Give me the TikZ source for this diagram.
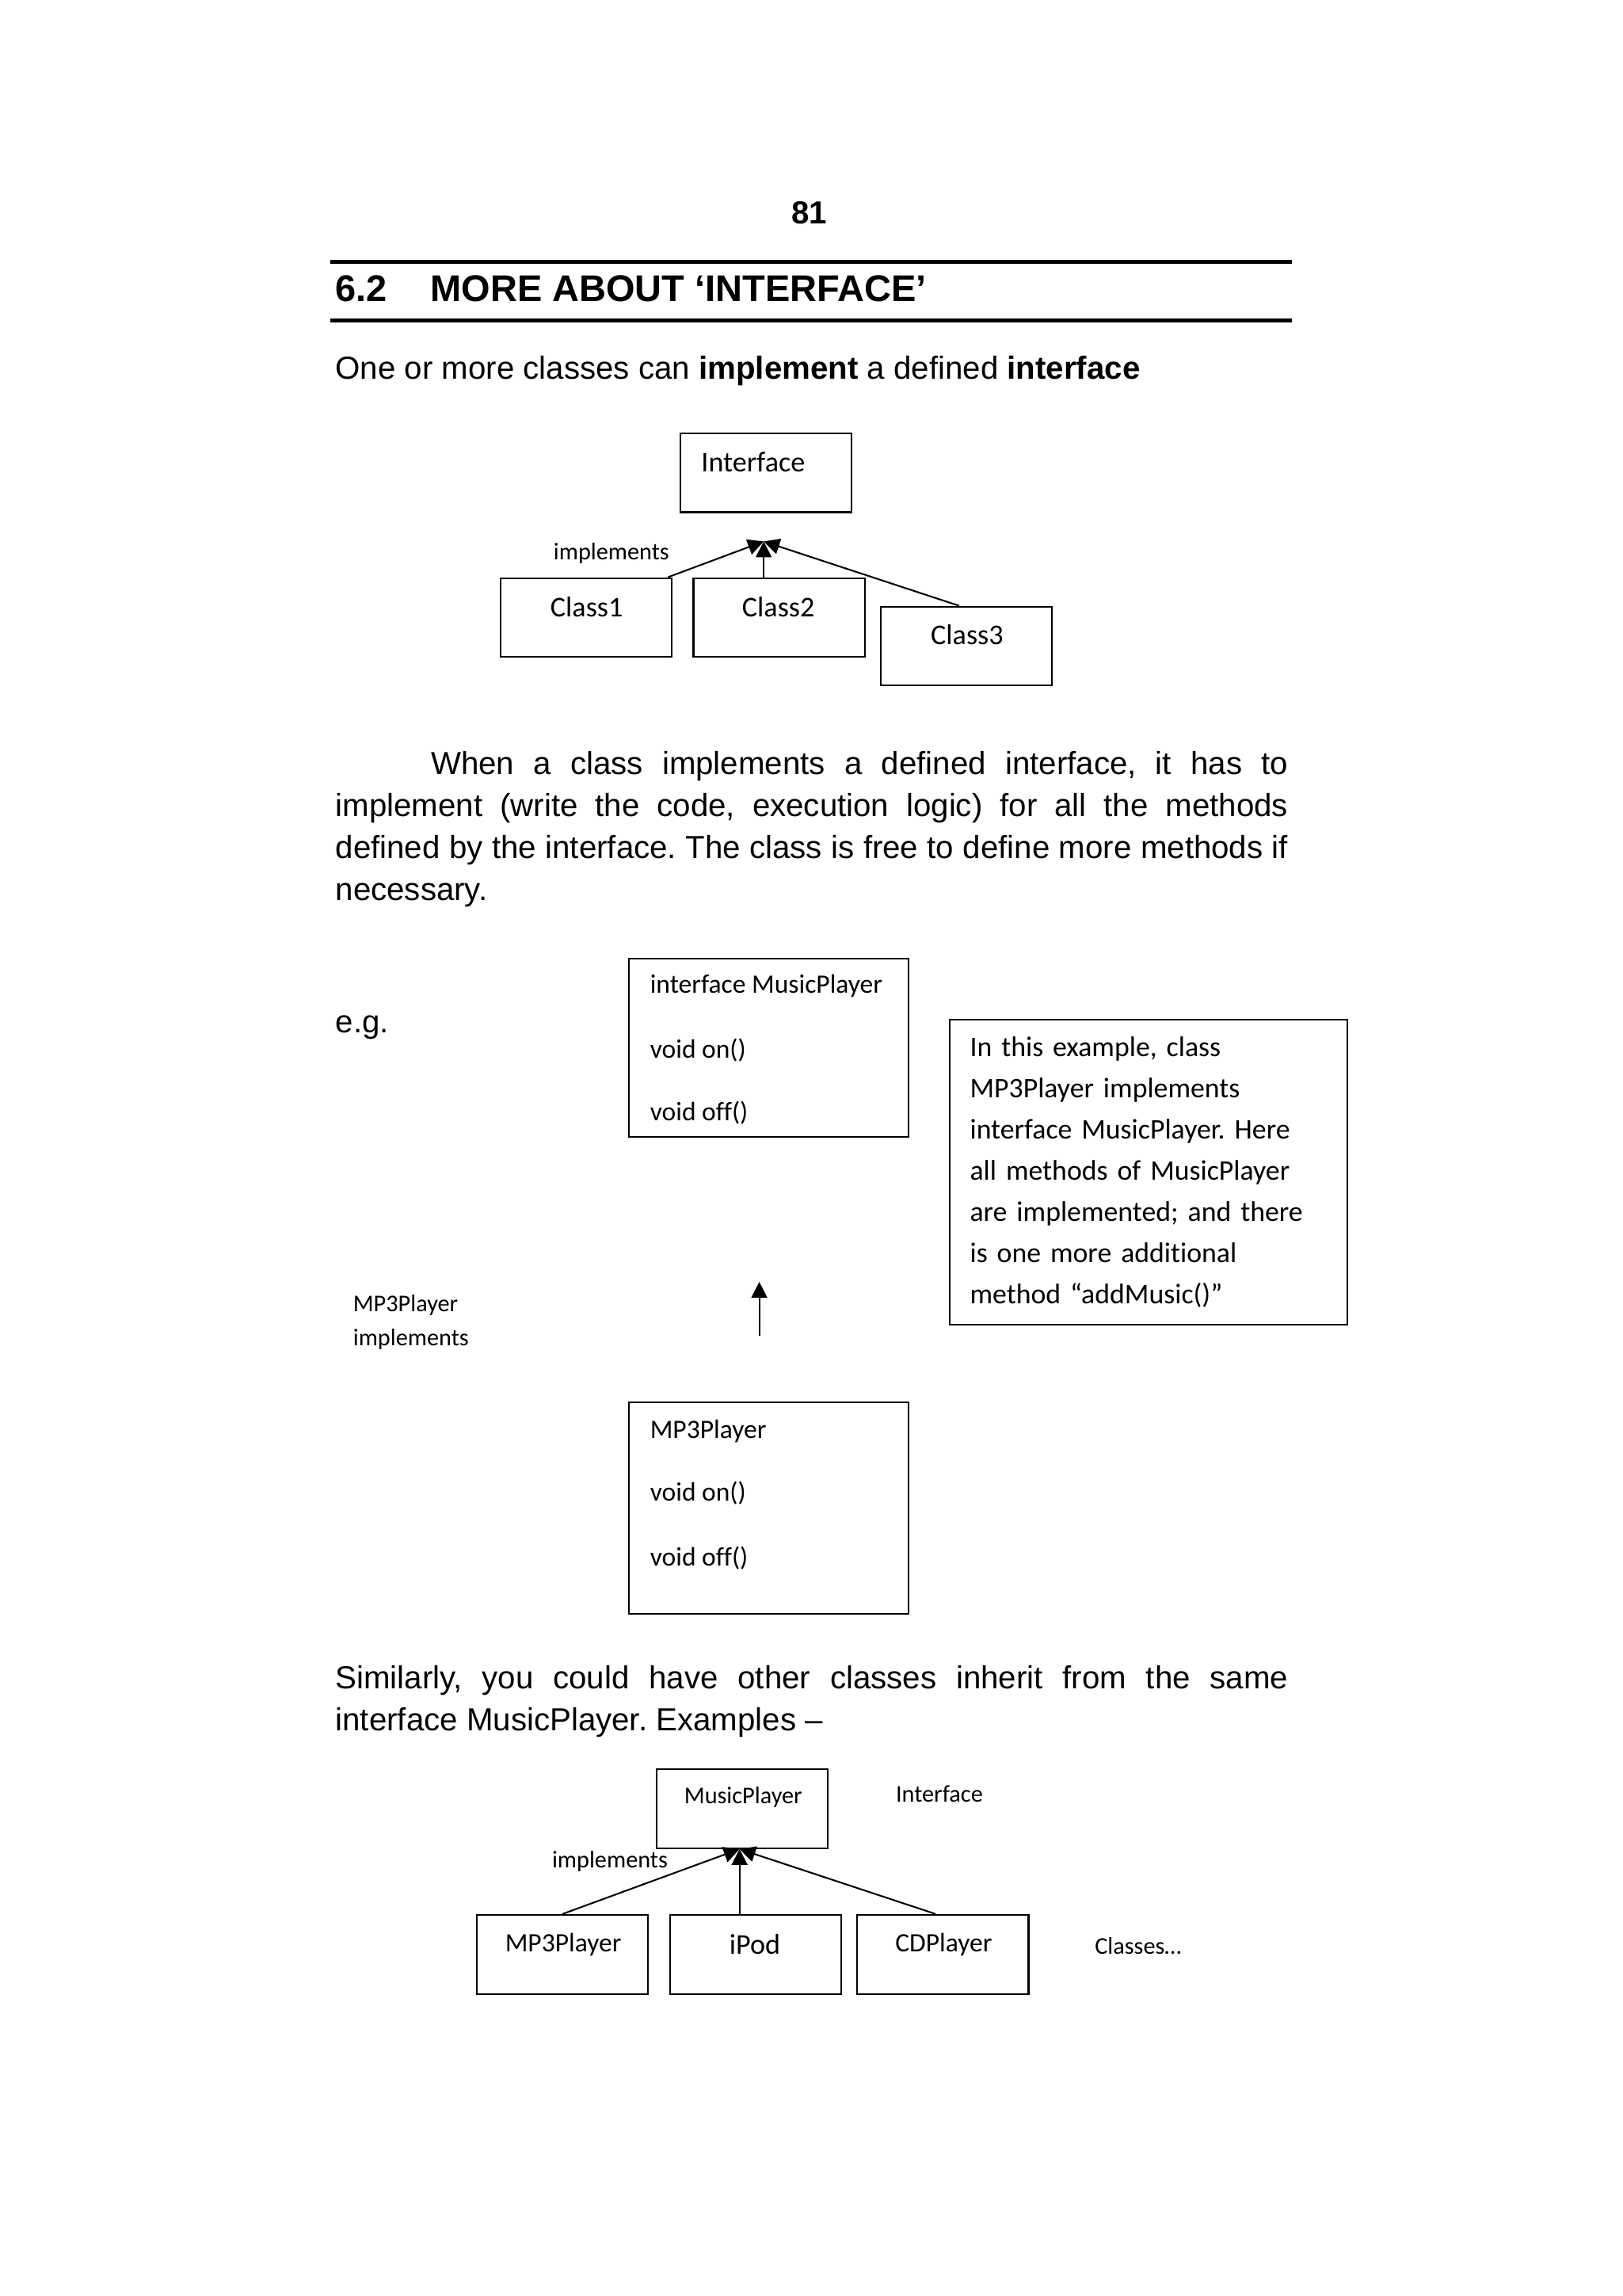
\documentclass[tikz,border=0pt]{standalone}
\usepackage{fontspec}
\setmainfont{Liberation Sans}
\newfontfamily\calibri[Ligatures=NoCommon]{Carlito}
\usetikzlibrary{arrows.meta,calc}
\frenchspacing

\tikzset{
  box/.style={draw,line width=0.6pt,inner sep=0pt},
  classbox/.style={box,minimum width=62.8pt,minimum height=29pt},
  methbox/.style={box,minimum width=102.5pt},
  body/.style={inner sep=0pt,font=\fontsize{11.7}{15.4}\selectfont,text height=8.4pt,text depth=0pt},
  para/.style={inner sep=0pt,text width=349.5pt,align=justify,font=\fontsize{11.7}{15.4}\selectfont},
  head/.style={inner sep=0pt,font=\bfseries\fontsize{13.65}{16}\selectfont,text height=9.8pt,text depth=0pt},
  calnine/.style={inner sep=0pt,font=\calibri\fontsize{8.8}{11}\selectfont,text height=5.7pt,text depth=0pt},
  calten/.style={inner sep=0pt,font=\calibri\fontsize{9.75}{12}\selectfont,text height=6.3pt,text depth=0pt},
  caleleven/.style={inner sep=0pt,font=\calibri\fontsize{10.5}{13}\selectfont,text height=6.8pt,text depth=0pt},
  impl/.style={line width=0.6pt,-{Triangle[length=5.8pt,width=5.8pt]}}
}

\begin{document}
\begin{tikzpicture}[x=0.5368pt,y=-0.5368pt]
  \useasboundingbox (0,0) rectangle (1109,1569);
  % page head
  \node [body,font=\bfseries\fontsize{11.7}{14}\selectfont] (pagenum) at (553,145) {81};
  \draw [line width=1.6pt] (226,179) -- (883,179);
  \node [head,anchor=west] (secnum) at (229,197) {6.2};
  \node [head,anchor=west] (sectitle) at (294,197) {MORE ABOUT ‘INTERFACE’};
  \draw [line width=1.6pt] (226,219) -- (883,219);
  \node [body,anchor=west] (intro) at (229,251) {One or more classes can \textbf{implement} a defined \textbf{interface}};
  % first diagram
  \node [classbox] (iface) at (523.5,323) {};
  \node [caleleven,anchor=west] (ifacename) at (479,316) {Interface};
  \node [classbox] (c1) at (400.5,422) {};
  \node [classbox] (c2) at (532.5,422) {};
  \node [classbox] (c3) at (660.5,441.5) {};
  \node [caleleven] (c1name) at (401,415) {Class1};
  \node [caleleven] (c2name) at (532,415) {Class2};
  \node [caleleven] (c3name) at (661,434) {Class3};
  \node [calnine,anchor=west] (impla) at (378,377) {implements};
  \coordinate (meet) at (522,370);
  \draw [impl] ($(c1.north east)+(-3,0)$) -- (meet);
  \draw [impl] (meet |- c2.north) -- (meet);
  \draw [impl] ($(c3.north)+(-5,0)$) -- (meet);
  % text
  \node [para,anchor=north west] (para1) at (229,513) {\hspace*{35pt}When a class implements a defined interface, it has to\linebreak
    implement (write the code, execution logic) for all the methods\linebreak
    defined by the interface. The class is free to define more methods if\linebreak
    necessary.};
  % second diagram
  \node [body,anchor=west] (eg) at (229,698) {e.g.};
  \node [methbox,minimum height=65.5pt] (mpif) at (525.5,716) {};
  \node [calten,anchor=west] (mpifname) at (444,673) {interface MusicPlayer};
  \node [calten,anchor=west] (mpifon) at (444,717) {void on()};
  \node [calten,anchor=west] (mpifoff) at (444,760) {void off()};
  \node [box,minimum width=146pt,minimum height=111.7pt,text width=131pt,align=left,
    font=\calibri\fontsize{10.4}{15.1}\selectfont] (note) at (785,801) {In this example, class\\
    MP3Player implements\\
    interface MusicPlayer. Here\\
    all methods of MusicPlayer\\
    are implemented; and there\\
    is one more additional\\
    method “addMusic()”};
  \node [calnine,anchor=west] (mpname) at (241,891) {MP3Player};
  \node [calnine,anchor=west] (mpimpl) at (241,914) {implements};
  \coordinate (mpfrom) at (519,913);
  \coordinate (mpto) at (519,876);
  \draw [impl] (mpfrom) -- (mpto);
  \node [methbox,minimum height=77.8pt] (mp3) at (525.5,1030.5) {};
  \node [calten,anchor=west] (mp3name) at (444,977) {MP3Player};
  \node [calten,anchor=west] (mp3on) at (444,1020) {void on()};
  \node [calten,anchor=west] (mp3off) at (444,1064) {void off()};
  % text
  \node [para,anchor=north west] (para2) at (229,1138) {Similarly, you could have other classes inherit from the same\linebreak
    interface MusicPlayer. Examples –};
  % third diagram
  \node [classbox] (mplay) at (507.5,1236) {};
  \node [calnine] (mplayname) at (508,1227) {MusicPlayer};
  \node [calnine,anchor=west] (ifacelbl) at (612,1226) {Interface};
  \node [calnine,anchor=west] (implb) at (377,1271) {implements};
  \node [classbox] (mp3c) at (384.5,1335.5) {};
  \node [classbox] (ipod) at (516.5,1335.5) {};
  \node [classbox] (cdp) at (644.5,1335.5) {};
  \node [calten] (mp3cname) at (385,1328) {MP3Player};
  \node [caleleven] (ipodname) at (516,1329) {iPod};
  \node [calten] (cdpname) at (645,1328) {CDPlayer};
  \node [calnine,anchor=west] (classlbl) at (748,1330) {Classes…};
  \draw [impl] (mp3c.north) -- ($(mplay.south)+(-2,0)$);
  \draw [impl] ($(mplay.south |- ipod.north)+(-2,0)$) -- ($(mplay.south)+(-2,0)$);
  \draw [impl] ($(cdp.north)+(-5,0)$) -- ($(mplay.south)+(-2,0)$);
\end{tikzpicture}
\end{document}
